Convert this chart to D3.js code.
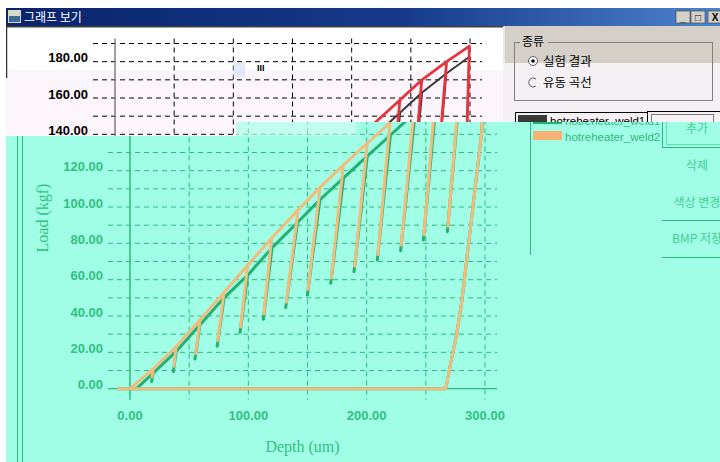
<!DOCTYPE html>
<html>
<head>
<meta charset="utf-8">
<script src="https://cdn.jsdelivr.net/npm/d3@7"></script>
<style>
  html, body { margin: 0; padding: 0; background: #ffffff; overflow: hidden; }
  svg { display: block; }
</style>
</head>
<body>
<svg id="view" width="720" height="462"></svg>
<script>
// ---- data -------------------------------------------------------------
const seriesNames = ["hotreheater_weld1", "hotreheater_weld2"];
const depthTicks = [0, 100, 200, 300];
const depthGrid = [50, 100, 150, 200, 250, 300];
const loadTicks = [0, 20, 40, 60, 80, 100, 120, 140, 160, 180];
const loadGrid = [10, 20, 30, 40, 50, 60, 70, 80, 90, 100, 110, 120, 130, 140, 150, 160, 170, 180, 190];

// weld1: loading peaks and the points each partial unloading reaches
const weld1Start = [5.5, 0];
const weld1PeakDepth = [19.5, 39, 59, 79.5, 99.5, 120, 141.5, 160.5, 180.5, 200.5, 220, 241, 259.5, 280, 299.5];
const weld1PeakLoad  = [8.5, 20.5, 35, 50, 62.5, 77.5, 91.5, 104, 116, 128, 139.5, 152, 163, 173.5, 182.7];
const weld1EndDepth  = [18.3, 36.6, 54.9, 73.7, 93, 112.7, 131.6, 149.9, 169.6, 189.3, 209, 228.7, 247.9, 268.2];
const weld1EndLoad   = [3.9, 9.4, 16.3, 23.5, 31, 38.2, 44.6, 51.6, 58, 64.4, 70.8, 76, 81.8, 86.4];

// weld2: loading peaks and partial unloading ends
const weld2Start = [0, 0];
const weld2PeakDepth = [19.7, 38.9, 59.2, 79.4, 99.4, 119.6, 142, 160.6, 180.3, 200.5, 219.7, 240.8, 259.2, 280.2, 299.5];
const weld2PeakLoad  = [11, 23.1, 38, 53, 68, 82.8, 98.3, 110.8, 123.1, 135.1, 146.4, 158.9, 169.9, 180, 188.6];
const weld2EndDepth  = [18.6, 37.1, 55.4, 74.2, 93.5, 113.2, 132.1, 150.4, 170.1, 189.8, 209.5, 229.2, 248.4, 268.7];
const weld2EndLoad   = [6.5, 12.4, 19.3, 26.5, 34, 41.2, 47.6, 54.6, 61, 67.4, 73.8, 79, 84.8, 89.4];

// final unloading down to zero load, then the zero-load return
const finalUnloadDepth = [297.4, 280.5, 276.2, 270.4, 266.8];
const finalUnloadLoad  = [142.3, 48.6, 30.6, 12.1, 0];
const returnDepth = -11;

function buildSeries(start, pd, pl, ed, el) {
  const pts = [start];
  pd.forEach((d, i) => {
    pts.push([d, pl[i]]);
    if (i < ed.length) {
      pts.push([ed[i], el[i]]);
      pts.push([d, pl[i]]);
    }
  });
  finalUnloadDepth.forEach((d, i) => pts.push([d, finalUnloadLoad[i]]));
  pts.push([returnDepth, 0]);
  return pts;
}
const weld1 = buildSeries(weld1Start, weld1PeakDepth, weld1PeakLoad, weld1EndDepth, weld1EndLoad);
const weld2 = buildSeries(weld2Start, weld2PeakDepth, weld2PeakLoad, weld2EndDepth, weld2EndLoad);

// ---- layout -------------------------------------------------------------
const svg = d3.select("#view");
const x = d3.scaleLinear().domain([0, 300]).range([130, 485]);
const y = d3.scaleLinear().domain([0, 190]).range([388.7, 43.5]);
const line = d3.line().x(d => x(d[0])).y(d => y(d[1]));

const tickFont = "'Liberation Sans', Arial, sans-serif";
const serif = "'Liberation Serif', 'Times New Roman', serif";
const kr = "'Noto Sans CJK KR', 'Noto Sans', sans-serif";

// the window is split here: above it the plain colours, below it the tinted ones
const splitLeft = 136, splitRight = 122, splitX = 236;
const splitAt = px => (px < splitX ? splitLeft : splitRight);

const schemes = {
  plain: {
    bg: "#ffffff", bgLow: "#fcf6fc", panel: "#d4d0c8", panelLow: "#f4f0f4",
    grid: "#000000", axis: "#808080", text: "#000000", ui: "#000000", btn: "#000000",
    s1: "#383838", s2: "#e8333f", w1: 2, w2: 2.8, sw1: "#3a3a3a", sw2: "#e8333f",
    keep: (px, py) => py < splitAt(px)
  },
  tinted: {
    bg: "#a0fde6", bgLow: "#a0fde6", panel: "#a0fde6", panelLow: "#a0fde6",
    grid: "#2fb97a", axis: "#2fb97a", text: "#30c182", ui: "#2fb97a", btn: "#40cf92",
    s1: "#22b172", s2: "#f3bb7e", w1: 3, w2: 3, sw1: "#22b172", sw2: "#f8b174",
    keep: (px, py) => py > splitAt(px)
  }
};

const defs = svg.append("defs");
defs.append("clipPath").attr("id", "clipTop").append("polygon")
  .attr("points", `6,26 720,26 720,${splitRight} ${splitX},${splitRight} ${splitX},${splitLeft} 6,${splitLeft}`);
defs.append("clipPath").attr("id", "clipBottom").append("polygon")
  .attr("points", `6,${splitLeft} ${splitX},${splitLeft} ${splitX},${splitRight} 720,${splitRight} 720,462 6,462`);

const titleGrad = defs.append("linearGradient").attr("id", "titleGrad")
  .attr("x1", "0").attr("x2", "1").attr("y1", "0").attr("y2", "0");
titleGrad.append("stop").attr("offset", "0%").attr("stop-color", "#0a246a");
titleGrad.append("stop").attr("offset", "55%").attr("stop-color", "#15398a");
titleGrad.append("stop").attr("offset", "100%").attr("stop-color", "#4d83cc");

function drawContent(g, p, mode, shift) {
  const plain = mode === "plain";
  // backgrounds
  if (plain) {
    g.append("rect").attr("x", 0).attr("y", 20).attr("width", 520).attr("height", 50).attr("fill", p.bg);
    g.append("rect").attr("x", 0).attr("y", 70).attr("width", 520).attr("height", 400).attr("fill", p.bgLow);
    g.append("rect").attr("x", 518).attr("y", 20).attr("width", 240).attr("height", 43).attr("fill", p.panel);
    g.append("rect").attr("x", 518).attr("y", 63).attr("width", 240).attr("height", 400).attr("fill", p.panelLow);
    g.append("line").attr("x1", 519).attr("x2", 519).attr("y1", 27).attr("y2", 63)
      .attr("stroke", "#ffffff").attr("stroke-width", 1);
    g.append("line").attr("x1", 21).attr("x2", 518).attr("y1", 26.5).attr("y2", 26.5)
      .attr("stroke", "#404040").attr("stroke-width", 2);
    g.append("line").attr("x1", 21.5).attr("x2", 21.5).attr("y1", 26).attr("y2", 78)
      .attr("stroke", "#303030").attr("stroke-width", 1.5);
  } else {
    g.append("rect").attr("x", 0).attr("y", 100).attr("width", 760).attr("height", 380).attr("fill", p.bg);
    [17.5, 22.5].forEach(v => g.append("line").attr("x1", v).attr("x2", v)
      .attr("y1", 120).attr("y2", 462).attr("stroke", p.ui).attr("stroke-width", 1));
  }

  // grid
  const gx0 = x.range()[0] - 22, gx1 = x.range()[1] + 12;
  const gy0 = y.range()[1] - 5, gy1 = y.range()[0] + 11;
  g.append("g").selectAll("line").data(loadGrid).join("line")
    .attr("x1", gx0).attr("x2", gx1).attr("y1", d => y(d)).attr("y2", d => y(d))
    .attr("stroke", p.grid).attr("stroke-width", 1).attr("stroke-dasharray", "5,4");
  g.append("g").selectAll("line").data(depthGrid).join("line")
    .attr("x1", d => x(d)).attr("x2", d => x(d)).attr("y1", gy0).attr("y2", gy1)
    .attr("stroke", p.grid).attr("stroke-width", 1).attr("stroke-dasharray", "5,4");
  // axes
  g.append("line").attr("x1", x(0)).attr("x2", x(0)).attr("y1", gy0).attr("y2", gy1)
    .attr("stroke", p.axis).attr("stroke-width", 1.5);
  g.append("line").attr("x1", gx0).attr("x2", gx1).attr("y1", y(0)).attr("y2", y(0))
    .attr("stroke", p.axis).attr("stroke-width", 1.2);

  // tick labels: only those whose glyphs fall inside this part of the window
  const labelX = 103;
  g.append("g").selectAll("text")
    .data(loadTicks.filter(d => p.keep(labelX + shift, plain ? y(d) - 10 : y(d))))
    .join("text")
    .attr("x", labelX).attr("y", d => y(d) + 0.5)
    .attr("text-anchor", "end").attr("font-family", tickFont).attr("font-weight", "bold")
    .attr("font-size", 13).attr("fill", p.text).text(d => d3.format(".2f")(d));

  if (!plain) {
    g.append("g").selectAll("text").data(depthTicks).join("text")
      .attr("x", d => x(d)).attr("y", 420)
      .attr("text-anchor", "middle").attr("font-family", tickFont).attr("font-weight", "bold")
      .attr("font-size", 13).attr("fill", p.text).text(d => d3.format(".2f")(d));
    // axis titles
    g.append("text").attr("transform", "translate(48,218) rotate(-90)")
      .attr("text-anchor", "middle").attr("font-family", serif).attr("font-size", 16)
      .attr("fill", p.text).text("Load (kgf)");
    g.append("text").attr("x", (x(0) + x(300)) / 2 - 5).attr("y", 452)
      .attr("text-anchor", "middle").attr("font-family", serif).attr("font-size", 16)
      .attr("fill", p.text).text("Depth (um)");
  }

  // curves
  g.append("path").datum(weld1).attr("d", line).attr("fill", "none")
    .attr("stroke", p.s1).attr("stroke-width", p.w1).attr("stroke-linejoin", "round");
  g.append("path").datum(weld2).attr("d", line).attr("fill", "none")
    .attr("stroke", p.s2).attr("stroke-width", p.w2).attr("stroke-linejoin", "round");

  if (plain) {
    // side panel: type selector
    g.append("rect").attr("x", 529.5).attr("y", 42.5).attr("width", 198).attr("height", 58)
      .attr("fill", "none").attr("stroke", "#808080").attr("stroke-width", 1);
    g.append("rect").attr("x", 535).attr("y", 36).attr("width", 28).attr("height", 12).attr("fill", p.panel);
    g.append("text").attr("x", 537).attr("y", 46).attr("font-family", kr).attr("font-size", 12)
      .attr("fill", p.ui).text("종류");
    g.append("circle").attr("cx", 548).attr("cy", 61).attr("r", 4.5)
      .attr("fill", "#ffffff").attr("stroke", "#606060").attr("stroke-width", 1);
    g.append("circle").attr("cx", 548).attr("cy", 61).attr("r", 1.8).attr("fill", "#000000");
    g.append("text").attr("x", 558).attr("y", 65.5).attr("font-family", kr).attr("font-size", 12.5)
      .attr("fill", p.ui).text("실험 결과");
    g.append("path").attr("d", "M551,79 A4.5,4.5 0 1 0 551,86")
      .attr("fill", "none").attr("stroke", "#606060").attr("stroke-width", 1);
    g.append("text").attr("x", 558).attr("y", 86.5).attr("font-family", kr).attr("font-size", 12.5)
      .attr("fill", p.ui).text("유동 곡선");
  }

  // legend box
  g.append("path").attr("d", "M530.5,255 V112.5 H662.5 V147")
    .attr("fill", "none").attr("stroke", p.ui).attr("stroke-width", 1);
  const rows = seriesNames.map((name, i) => ({ name, i, top: 115 + i * 16 }))
    .filter(r => p.keep(560 + shift, r.top + (plain ? 0 : 9)));
  const legend = g.append("g").selectAll("g").data(rows).join("g")
    .attr("transform", r => `translate(533,${r.top})`);
  legend.append("rect").attr("width", 29).attr("height", 9)
    .attr("fill", r => r.i === 0 ? p.sw1 : p.sw2);
  legend.append("text").attr("x", 32).attr("y", 9.5).attr("font-family", tickFont)
    .attr("font-size", 11.5).attr("fill", p.ui).text(r => r.name);

  // buttons
  g.append("rect").attr("x", 662.5).attr("y", 111.5).attr("width", 80).attr("height", 36)
    .attr("fill", "none").attr("stroke", p.ui).attr("stroke-width", 1);
  g.append("rect").attr("x", 666.5).attr("y", 114.5).attr("width", 62).attr("height", 30)
    .attr("fill", "none").attr("stroke", p.ui).attr("stroke-width", 1).attr("stroke-dasharray", "1,1");
  if (!plain) {
    const buttons = [["추가", 133], ["삭제", 170], ["색상 변경", 207], ["BMP 저장", 243]];
    g.append("g").selectAll("text").data(buttons).join("text")
      .attr("x", 697).attr("y", d => d[1]).attr("text-anchor", "middle")
      .attr("font-family", kr).attr("font-size", 12).attr("fill", p.btn)
      .text(d => d[0]);
    [220, 257].forEach(v => g.append("line").attr("x1", 662).attr("x2", 740)
      .attr("y1", v + 0.5).attr("y2", v + 0.5).attr("stroke", p.ui).attr("stroke-width", 1.2));
  }
}

// upper part of the window: original colours, content offset 15px left
const upperShift = -15;
const upperPart = svg.append("g").attr("clip-path", "url(#clipTop)");
drawContent(upperPart.append("g").attr("transform", `translate(${upperShift},0)`), schemes.plain, "plain", upperShift);
upperPart.append("text").attr("x", 257).attr("y", 71).attr("font-family", tickFont)
  .attr("font-weight", "bold").attr("font-size", 9).attr("fill", "#000").text("III");
upperPart.append("rect").attr("x", 233).attr("y", 62).attr("width", 12).attr("height", 15)
  .attr("fill", "#c8d8f8").attr("opacity", 0.5);

// lower part of the window: tinted colours, unshifted
const lowerPart = svg.append("g").attr("clip-path", "url(#clipBottom)");
drawContent(lowerPart.append("g"), schemes.tinted, "tinted", 0);
lowerPart.append("rect").attr("x", splitX).attr("y", splitRight).attr("width", 120).attr("height", splitLeft - splitRight)
  .attr("fill", "#ffffff").attr("opacity", 0.35);

// title bar
const bar = svg.append("g");
bar.append("rect").attr("x", 6).attr("y", 8).attr("width", 714).attr("height", 18).attr("fill", "url(#titleGrad)");
bar.append("rect").attr("x", 8).attr("y", 10).attr("width", 13).attr("height", 13).attr("fill", "#d8d8c8");
bar.append("rect").attr("x", 9).attr("y", 16).attr("width", 11).attr("height", 6).attr("fill", "#3a6a9a");
bar.append("text").attr("x", 24).attr("y", 21.5).attr("font-family", kr).attr("font-size", 12)
  .attr("fill", "#ffffff").text("그래프 보기");
const ctl = bar.append("g").selectAll("g").data(["_", "□", "X"]).join("g")
  .attr("transform", (d, i) => `translate(${676 + i * 15 + (i === 2 ? 2 : 0)},11)`);
ctl.append("rect").attr("width", 14).attr("height", 12).attr("fill", "#d4d0c8")
  .attr("stroke", "#404040").attr("stroke-width", 0.6);
ctl.append("text").attr("x", 7).attr("y", 10).attr("text-anchor", "middle")
  .attr("font-family", tickFont).attr("font-weight", "bold").attr("font-size", 10)
  .attr("fill", "#000").text(d => d);
</script>
</body>
</html>
